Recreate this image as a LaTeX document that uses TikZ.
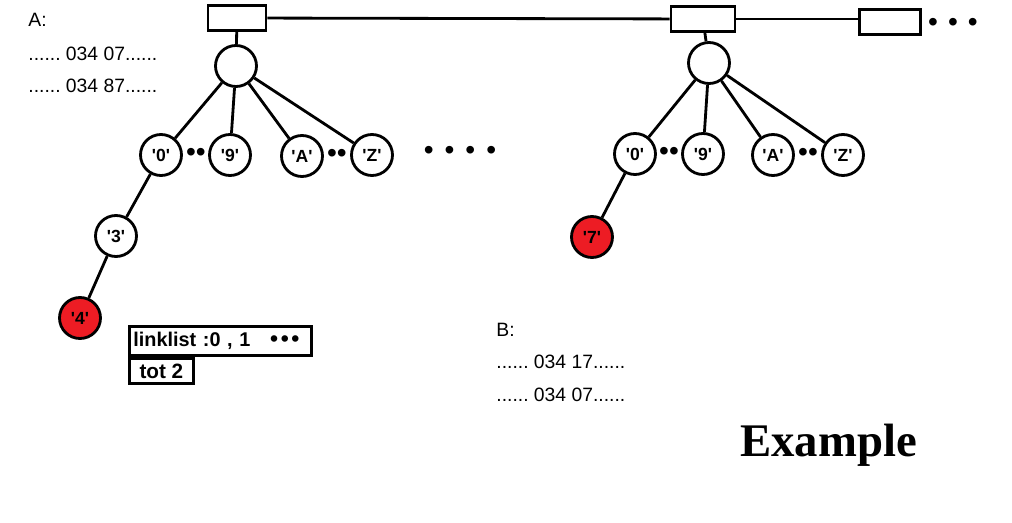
\documentclass[tikz,border=0pt]{standalone}
\usepackage{fontspec}
\setmainfont{Liberation Sans}
\newfontfamily\titlefont{Liberation Serif}
\definecolor{hitred}{RGB}{237,28,36}
\newcommand{\ch}[1]{\textquotesingle#1\textquotesingle}
\newcommand{\bigdot}{{\fontsize{13}{13}\selectfont\textbullet}\hspace{1.5pt}}
\frenchspacing

\begin{document}
\begin{tikzpicture}[x=0.02cm, y=-0.02cm, line width=1.6pt,
    trie/.style={circle, draw, minimum size=0.82cm, inner sep=0pt, font=\bfseries},
    hit/.style={trie, fill=hitred},
    slot/.style={rectangle, draw, minimum height=0.49cm, inner sep=0pt},
    note/.style={anchor=base west, inner sep=0pt, font=\fontsize{11}{12}\selectfont},
    gap/.style={inner sep=0pt, font=\fontsize{16}{16}\selectfont}]
\useasboundingbox (0,0) rectangle (1012,523);
% Nodes
\node[slot, minimum width=1.16cm] (s1) at (237,18) {};
\node[slot, minimum width=1.28cm] (s2) at (703,19) {};
\node[slot, minimum width=1.22cm] (s3) at (890,22) {};
\node[gap] (more) at (953,25) {\textbullet\hspace{0.2cm}\textbullet\hspace{0.2cm}\textbullet};

\node[trie] (ra) at (236,66) {};
\node[trie] (a0) at (161,155) {\ch{0}};
\node[trie] (a9) at (230,155) {\ch{9}};
\node[trie] (aA) at (302,156) {\ch{A}};
\node[trie] (aZ) at (372,155) {\ch{Z}};
\node[gap] (ad1) at (196,155) {\textbullet\textbullet};
\node[gap] (ad2) at (337,156) {\textbullet\textbullet};
\node[trie] (a3) at (116,236) {\ch{3}};
\node[hit] (a4) at (80,318) {\ch{4}};

\node[gap] (mid) at (460,153) {\textbullet\hspace{0.22cm}\textbullet\hspace{0.22cm}\textbullet\hspace{0.22cm}\textbullet};

\node[trie] (rb) at (709,63) {};
\node[trie] (b0) at (635,154) {\ch{0}};
\node[trie] (b9) at (703,154) {\ch{9}};
\node[trie] (bA) at (773,155) {\ch{A}};
\node[trie] (bZ) at (843,155) {\ch{Z}};
\node[gap] (bd1) at (669,154) {\textbullet\textbullet};
\node[gap] (bd2) at (808,155) {\textbullet\textbullet};
\node[hit] (b7) at (592,237) {\ch{7}};

\node[draw, anchor=west, text width=3.48cm, inner xsep=0.08cm, minimum height=0.54cm,
      font=\bfseries\fontsize{11.3}{12}\selectfont] (link) at (128,341)
      {linklist :0 , 1 \ \ \bigdot\bigdot\bigdot};
\node[draw, anchor=north west, minimum width=1.28cm, minimum height=0.5cm, inner sep=0pt,
      font=\bfseries\fontsize{11.8}{12}\selectfont] (tot) at (link.south west) {tot 2};

\node[note] (la) at (27,27) {A:};
\node[note] (la1) at (27,61) {...... 034 07......};
\node[note] (la2) at (27,93) {...... 034 87......};
\node[note] (lb) at (495,337) {B:};
\node[note] (lb1) at (495,369) {...... 034 17......};
\node[note] (lb2) at (495,402) {...... 034 07......};
\node[anchor=base west, inner sep=0pt, font=\titlefont\bfseries\fontsize{26.6}{30}\selectfont] (title) at (739,457) {Example};
% Edges
\draw (s1) -- (s2);
\draw (s2.east) -- (s3.west |- s2.east);
\draw (s1) -- (ra);
\draw (s2) -- (rb);
\draw (ra) -- (a0);
\draw (ra) -- (a9);
\draw (ra) -- (aA);
\draw (ra) -- (aZ);
\draw (a0) -- (a3);
\draw (a3) -- (a4);
\draw (rb) -- (b0);
\draw (rb) -- (b9);
\draw (rb) -- (bA);
\draw (rb) -- (bZ);
\draw (b0) -- (b7);
\end{tikzpicture}
\end{document}
